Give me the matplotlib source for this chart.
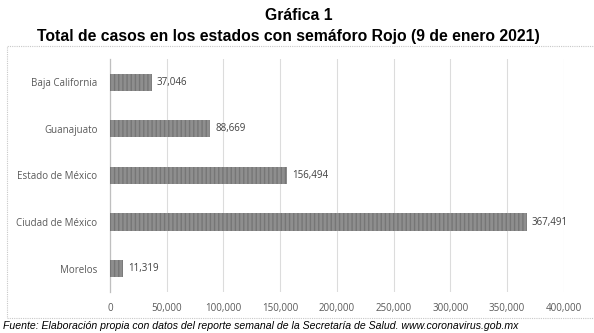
import matplotlib
matplotlib.use('Agg')
import matplotlib.pyplot as plt
from matplotlib.patches import Rectangle
from matplotlib.ticker import FuncFormatter

estados = ["Baja California", "Guanajuato", "Estado de México", "Ciudad de México", "Morelos"]
casos = [37046, 88669, 156494, 367491, 11319]
ticks_x = [0, 50000, 100000, 150000, 200000, 250000, 300000, 350000, 400000]

fig = plt.figure(figsize=(5.94, 3.33), dpi=100)
ax = fig.add_axes([0.185, 0.123, 0.764, 0.7])

# caja punteada alrededor de la grafica
caja = Rectangle((7 / 594, 1 - 318 / 333), 1.0, 272 / 333, transform=fig.transFigure,
                 fill=False, edgecolor="#c8c8c8", linestyle=(0, (1, 1)), linewidth=0.8)
fig.patches.append(caja)

pos = list(range(len(estados)))
ax.barh(pos, casos, height=0.37, color="#8e8e8e", edgecolor="#767676",
        hatch="||||", linewidth=0, zorder=3)

for p, v in zip(pos, casos):
    ax.text(v + 4500, p, f"{v:,}", va="center", ha="left", fontsize=7,
            color="#404040", family="Open Sans")

ax.set_ylim(len(estados) - 0.5, -0.5)
ax.set_xlim(0, 400000)
ax.set_yticks(pos)
ax.set_yticklabels(estados, fontsize=7, color="#595959", family="Open Sans")
ax.set_xticks(ticks_x)
ax.xaxis.set_major_formatter(FuncFormatter(lambda x, _: f"{int(x):,}"))
for t in ax.get_xticklabels():
    t.set_fontsize(7)
    t.set_color("#595959")
    t.set_family("Open Sans")
ax.tick_params(axis="both", length=0)
ax.tick_params(axis="x", pad=8)
ax.tick_params(axis="y", pad=9)

ax.grid(axis="x", color="#dcdcdc", linewidth=0.8, zorder=0)
for s in ["top", "right", "bottom"]:
    ax.spines[s].set_visible(False)
ax.spines["left"].set_color("#bfbfbf")
ax.spines["left"].set_linewidth(0.9)

fig.text(0.503, 1 - 15 / 333, "Gráfica 1", ha="center", va="center",
         fontsize=11.3, fontweight="bold", family="Liberation Sans")
fig.text(0.485, 1 - 37 / 333, "Total de casos en los estados con semáforo Rojo (9 de enero 2021)",
         ha="center", va="center", fontsize=11.3, fontweight="bold", family="Liberation Sans")
fig.text(3 / 594, 1 - 326 / 333,
         "Fuente: Elaboración propia con datos del reporte semanal de la Secretaría de Salud. www.coronavirus.gob.mx",
         ha="left", va="center", fontsize=7.6, style="italic", family="Liberation Sans")

fig.savefig("out.png", dpi=100)
